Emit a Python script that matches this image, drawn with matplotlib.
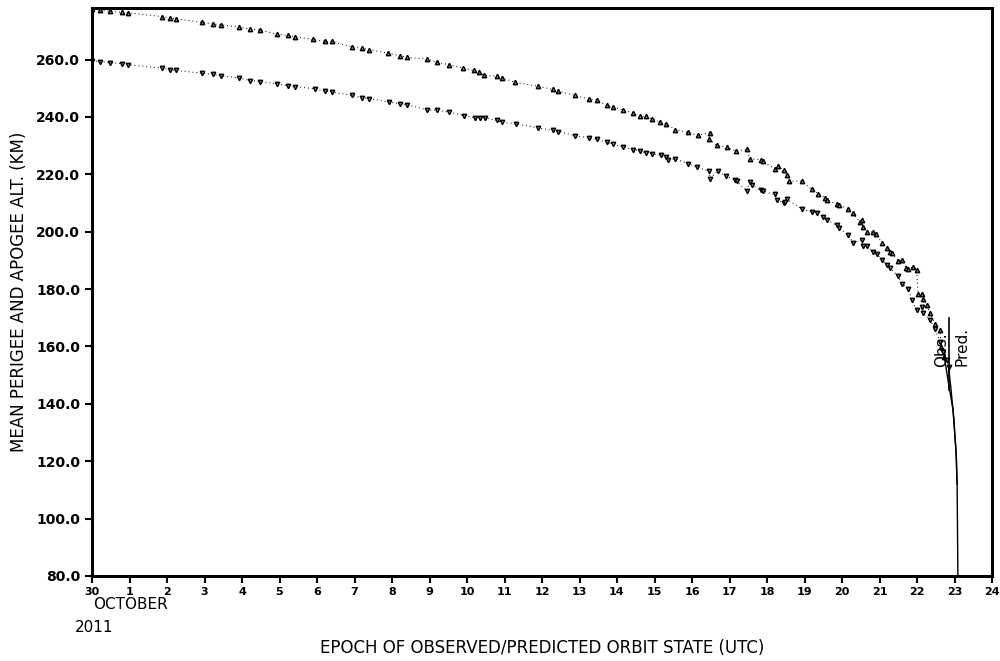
import matplotlib
matplotlib.use("Agg")
import matplotlib.pyplot as plt

# Epoch in days since 30 Sep 2011 00:00 UTC (tick "1" = 1 October)
apogee_days = [0.0, 0.21, 0.48, 0.79, 0.97, 1.86, 2.08, 2.24, 2.92, 3.23, 3.45, 3.92, 4.21, 4.48,
               4.92, 5.23, 5.41, 5.9, 6.21, 6.39, 6.92, 7.19, 7.39, 7.9, 8.21, 8.39, 8.92, 9.19,
               9.52, 9.9, 10.19, 10.32, 10.45, 10.79, 10.92, 11.28, 11.9, 12.28, 12.43, 12.88,
               13.24, 13.46, 13.72, 13.9, 14.16, 14.43, 14.6, 14.77, 14.92, 15.15, 15.31, 15.55,
               15.9, 16.15, 16.48, 16.46, 16.66, 16.92, 17.17, 17.46, 17.55, 17.83, 17.88, 18.21,
               18.28, 18.45, 18.53, 18.59, 18.92, 19.19, 19.37, 19.55, 19.59, 19.87, 19.93, 20.17,
               20.28, 20.48, 20.52, 20.55, 20.67, 20.83, 20.9, 21.08, 21.21, 21.28, 21.32, 21.5,
               21.59, 21.71, 21.77, 21.88, 21.99, 22.03, 22.12, 22.17, 22.26, 22.35, 22.48, 22.61,
               22.65, 22.73]
apogee_km = [277.5, 277.4, 276.8, 276.5, 276.3, 275.0, 274.5, 274.2, 273.0, 272.4, 272.1, 271.3,
             270.7, 270.3, 268.9, 268.4, 268.0, 267.0, 266.4, 266.3, 264.5, 263.9, 263.5, 262.2,
             261.4, 260.8, 260.2, 259.1, 258.2, 257.0, 256.2, 255.7, 254.5, 254.2, 253.7, 252.1,
             250.7, 249.6, 249.0, 247.5, 246.3, 246.0, 244.0, 243.4, 242.5, 241.3, 240.2, 240.2,
             239.4, 238.2, 237.6, 235.6, 234.6, 233.6, 234.5, 232.2, 230.1, 229.5, 228.1, 228.7,
             225.4, 225.1, 224.5, 222.0, 222.8, 221.4, 219.6, 217.6, 217.6, 214.8, 213.3, 211.9,
             211.2, 209.5, 209.2, 208.0, 206.5, 203.4, 204.0, 201.7, 199.9, 199.9, 199.3, 196.1,
             194.4, 192.9, 192.6, 189.8, 190.0, 187.5, 187.0, 187.7, 186.5, 178.4, 178.4, 176.7,
             174.4, 171.5, 168.0, 165.7, 159.8, 156.4]

perigee_days = [0.0, 0.21, 0.48, 0.79, 0.97, 1.86, 2.08, 2.24, 2.92, 3.23, 3.45, 3.92, 4.21, 4.48,
                4.92, 5.23, 5.41, 5.95, 6.21, 6.39, 6.94, 7.19, 7.39, 7.93, 8.21, 8.39, 8.92, 9.21,
                9.52, 9.92, 10.21, 10.35, 10.48, 10.79, 10.92, 11.31, 11.9, 12.28, 12.43, 12.88,
                13.24, 13.46, 13.72, 13.9, 14.17, 14.43, 14.6, 14.77, 14.92, 15.16, 15.31, 15.37,
                15.55, 15.9, 16.14, 16.46, 16.48, 16.68, 16.91, 17.15, 17.19, 17.46, 17.55, 17.59,
                17.83, 17.88, 18.2, 18.26, 18.45, 18.48, 18.53, 18.92, 19.19, 19.32, 19.5, 19.59,
                19.86, 19.93, 20.17, 20.3, 20.52, 20.55, 20.67, 20.83, 20.92, 21.08, 21.19, 21.28,
                21.5, 21.59, 21.77, 21.86, 21.99, 22.12, 22.17, 22.35, 22.48, 22.61, 22.7, 22.79,
                22.84]
perigee_km = [259.5, 259.3, 258.9, 258.6, 258.2, 257.0, 256.5, 256.2, 255.3, 254.8, 254.3, 253.6,
              252.7, 252.3, 251.5, 250.9, 250.6, 249.8, 249.0, 248.7, 247.5, 246.7, 246.4, 245.2,
              244.6, 244.3, 242.5, 242.3, 241.7, 240.5, 239.7, 239.7, 239.7, 238.8, 238.2, 237.6,
              236.2, 235.3, 234.9, 233.5, 232.7, 232.2, 231.2, 230.4, 229.5, 228.6, 228.3, 227.5,
              227.2, 226.6, 226.0, 225.1, 225.4, 223.7, 222.5, 221.1, 218.5, 221.1, 219.3, 218.1,
              217.6, 214.2, 217.3, 216.4, 214.4, 214.2, 213.0, 211.2, 210.0, 210.3, 211.3, 208.0,
              206.9, 206.5, 205.2, 204.2, 202.2, 201.4, 198.7, 196.1, 197.0, 194.9, 194.9, 192.9,
              192.1, 190.3, 188.3, 187.4, 184.5, 181.9, 180.2, 176.1, 172.6, 173.8, 171.5, 169.1,
              166.2, 161.6, 158.1, 155.2, 152.9]

# Predicted decay after last observation
pred_apogee_days = [22.73, 22.83, 22.96, 23.04, 23.07]
pred_apogee_km = [156.4, 148.0, 138.0, 124.0, 112.0]
pred_perigee_days = [22.84, 22.9, 22.98, 23.05, 23.07, 23.09]
pred_perigee_km = [152.9, 146.0, 135.0, 121.0, 112.0, 80.0]

split_day = 22.85
x_tick_labels = ["30"] + [str(d) for d in range(1, 25)]
y_ticks = [80, 100, 120, 140, 160, 180, 200, 220, 240, 260]

fig = plt.figure(figsize=(10, 6.61), dpi=100)
ax = fig.add_axes([0.092, 0.1286, 0.900, 0.8594])

ax.plot(apogee_days, apogee_km, color="black", ls=(0, (1, 3)), lw=0.7,
        marker="^", ms=3.2, mfc="#777777", mec="black", mew=1.0)
ax.plot(perigee_days, perigee_km, color="black", ls=(0, (1, 3)), lw=0.7,
        marker="v", ms=3.2, mfc="#777777", mec="black", mew=1.0)
ax.plot(pred_apogee_days, pred_apogee_km, color="black", lw=1.0)
ax.plot(pred_perigee_days, pred_perigee_km, color="black", lw=1.0)

ax.plot([split_day, split_day], [145, 170], color="black", lw=1.2)
ax.text(split_day - 0.2, 159, "Obs.", rotation=90, ha="center", va="center", fontsize=11)
ax.text(split_day + 0.35, 160, "Pred.", rotation=90, ha="center", va="center", fontsize=11)

ax.set_xlim(0, 24)
ax.set_ylim(80, 278)
ax.set_xticks(range(0, 25))
ax.set_xticklabels(x_tick_labels, fontsize=8, fontweight="bold")
ax.set_yticks(y_ticks)
ax.set_yticklabels([f"{v:.1f}" for v in y_ticks], fontsize=10, fontweight="bold")
ax.tick_params(axis="both", direction="out", length=5, width=1.5)
ax.tick_params(axis="x", pad=3)
for s in ax.spines.values():
    s.set_linewidth(2.2)

ax.set_ylabel("MEAN PERIGEE AND APOGEE ALT. (KM)", fontsize=12, labelpad=6)
fig.text(0.542, 0.02, "EPOCH OF OBSERVED/PREDICTED ORBIT STATE (UTC)", ha="center",
         va="center", fontsize=12)
fig.text(0.130, 0.085, "OCTOBER", ha="center", va="center", fontsize=11)
fig.text(0.094, 0.051, "2011", ha="center", va="center", fontsize=11)

fig.savefig("out.png", dpi=100)
